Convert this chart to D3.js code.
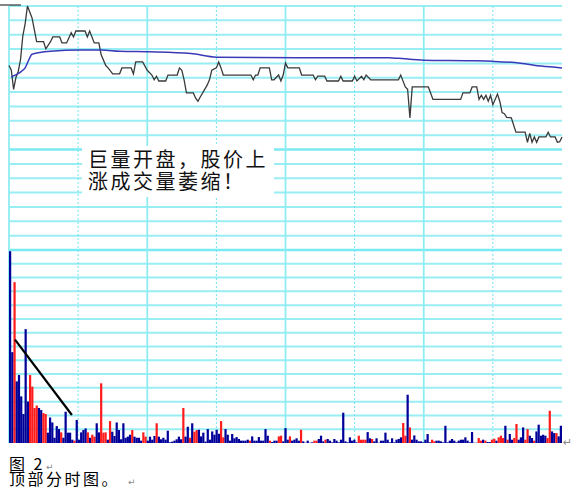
<!DOCTYPE html>
<html>
<head>
<meta charset="utf-8">
<script src="https://cdn.jsdelivr.net/npm/d3@7"></script>
<style>
  body { margin: 0; background: #fff; }
  svg { display: block; }
</style>
</head>
<body>
<svg id="chart"></svg>
<script>
// minute / price readings of the price line
const priceMin = [0, 1, 2, 3, 4, 5, 6, 7, 8, 10, 11, 12, 15, 16, 18, 19, 22, 23, 25, 27, 28, 29, 33, 34, 35, 37, 39, 40, 42, 43, 45, 48, 49, 53, 54, 55, 58, 60, 62, 63, 64, 65, 68, 69, 73, 74, 75, 76, 77, 80, 81,
  82, 83, 86, 87, 88, 90, 91, 92, 93, 105, 106, 107, 108, 109, 113, 114, 115, 117, 118, 119, 120, 121, 126, 127, 132, 133, 134, 137, 138, 143, 144, 145, 149, 150, 151, 153, 154, 155, 157, 169,
  170, 172, 173, 174, 175, 182, 184, 196, 197, 200, 201, 203, 204, 205, 206, 207, 208, 209, 210, 212, 213, 214, 215, 216, 218, 220, 224, 225, 226, 227, 228, 229, 230, 233, 234, 235, 237, 238, 239, 240];
const priceVal = [10.14, 10.132, 10.10, 10.12, 10.13, 10.15, 10.19, 10.21, 10.24, 10.22, 10.20, 10.18, 10.18, 10.168, 10.18, 10.188, 10.188, 10.178, 10.178, 10.195, 10.188, 10.198, 10.198, 10.188, 10.198, 10.178, 10.178, 10.158, 10.14, 10.136, 10.126, 10.126, 10.136, 10.136, 10.126, 10.146, 10.146, 10.132, 10.124, 10.116, 10.122, 10.114, 10.114, 10.124, 10.124, 10.136, 10.132, 10.116, 10.094, 10.094, 10.085,
  10.08, 10.087, 10.107, 10.116, 10.132, 10.136, 10.146, 10.136, 10.124, 10.124, 10.116, 10.124, 10.124, 10.136, 10.136, 10.116, 10.116, 10.124, 10.114, 10.124, 10.144, 10.136, 10.136, 10.124, 10.124, 10.116, 10.122, 10.122, 10.114, 10.114, 10.122, 10.114, 10.114, 10.122, 10.114, 10.122, 10.116, 10.124, 10.116, 10.116,
  10.124, 10.104, 10.10, 10.052, 10.104, 10.104, 10.083, 10.083, 10.094, 10.094, 10.104, 10.104, 10.083, 10.09, 10.083, 10.09, 10.08, 10.09, 10.074, 10.092, 10.08, 10.061, 10.059, 10.053, 10.052, 10.028, 10.028, 10.011, 10.026, 10.011, 10.02, 10.011, 10.02, 10.02, 10.028, 10.02, 10.02, 10.011, 10.012, 10.02];

// minute / price readings of the average line
const avgMin = [1, 5, 7, 9, 10, 18, 31, 40, 48, 61, 79, 90, 126, 165, 169, 180, 200, 210, 222, 231, 240];
const avgVal = [10.121, 10.129, 10.136, 10.153, 10.159, 10.164, 10.166, 10.166, 10.164, 10.163, 10.160, 10.154, 10.153, 10.153, 10.152, 10.149, 10.148, 10.147, 10.144, 10.139, 10.136];

// volume per bar and side (r = up, b = down)
const volume = [
  1391, 659, 1167, 447, 493, 338, 210, 826, 301, 493, 409, 254, 272, 254, 239, 217, 210, 75, 185, 149,
  38, 123, 101, 77, 38, 227, 75, 75, 24, 17, 167, 24, 77, 94, 106, 77, 38, 60, 46, 143,
  77, 433, 75, 77, 24, 159, 82, 51, 149, 94, 27, 143, 38, 46, 60, 94, 46, 38, 38, 17,
  77, 46, 17, 46, 24, 51, 143, 46, 27, 38, 24, 89, 5, 10, 17, 27, 46, 27, 254, 46,
  118, 38, 143, 82, 94,
  96, 48, 75, 10, 101, 24, 84, 60, 96, 67, 159, 41, 101, 60, 17, 65, 34, 43, 29, 17,
  17, 17, 24, 17, 48, 17, 17, 43, 17, 17, 101, 53, 17, 7, 17, 17, 48, 53, 12, 108,
  24, 48, 17, 24, 34, 17, 96, 12, 2, 17, 2, 5, 17, 17, 29, 53, 12, 24, 29, 17,
  5, 29, 17, 5, 24, 220, 12, 5, 41, 17, 24, 5, 53, 24, 24, 24, 79, 34, 29, 12, 34, 2,
  17, 17, 75, 24, 5, 34, 5, 24, 29, 41, 145, 53, 350, 113, 24, 55, 24, 12, 12, 5,
  24, 65, 5, 24, 12, 17, 17, 12, 5, 125, 5, 17, 29, 17, 5, 17, 24, 24, 41, 17,
  5, 80, 2, 2, 36, 17, 24, 17, 7, 7, 24, 31, 17, 41, 53, 36, 125, 24, 65, 24,
  36, 138, 24, 41, 113, 24, 101, 53, 36, 17, 84, 133, 53, 60, 53, 36, 234, 84, 72, 72, 48, 125];
const volSide = (
  "bbrbbbbbbr" + "rrrbbrrbbb" + "bbbrbbbbbr" + "bbbbbrbrrb" + "brrrbrbbbb" + "bbbbbrbbbb" + "rrbbbbrbbb" + "bbbbbbbbrb" + "brbrr" +
  "bbbbbbbbbb" + "rrbbbbbbbb" + "bbbrbbbbbb" + "bbrbbbrrbb" + "brbbbbrbbb" + "bbrrbbbrbb" + "bbbbbbbbbb" + "bbrrrrbbrbbb" +
  "bbbbbbbbbb" + "rrbrbbbbbb" + "bbbrrbbbbb" + "bbbbbbbbbb" + "bbbbrrbrbb" + "rrbrrrbrbb" + "rrbbbrrbbr" + "bbbbbrrbbrbb"
).split("");

// hand-drawn trend stroke over the volume bars (minute, volume)
const trendMin = [2.6, 27.3];
const trendVol = [750, 203];

const noteLines = ["巨量开盘，股价上", "涨成交量萎缩！"];
const captionLines = ["图 2", "顶部分时图。"];
const captionGap = [1, 8];

const W = 580, H = 492;
const plotLeft = 9, plotRight = 562, plotTop = 6, plotSplit = 250, plotBottom = 443;

const x = d3.scaleLinear().domain([0, 240]).range([plotLeft, plotRight]);
const yPrice = d3.scaleLinear().domain([9.83, 10.24]).range([plotSplit, plotTop]);
const yVol = d3.scaleLinear().domain([0, 1400]).range([plotBottom, plotSplit]);
const xBar = d3.scaleBand().domain(d3.range(volume.length)).range([plotLeft, plotRight]);

const svg = d3.select("#chart").attr("width", W).attr("height", H);
svg.append("rect").attr("width", W).attr("height", H).attr("fill", "#fff");

// grid
const grid = svg.append("g");
const priceRows = d3.range(18).map(i => plotTop + i * (plotSplit - plotTop) / 17);
grid.selectAll(".hp")
    .data(priceRows)
    .enter()
    .append("line")
    .attr("x1", plotLeft).attr("x2", plotRight)
    .attr("y1", d => d).attr("y2", d => d)
    .attr("stroke", (d, i) => (i === 10 || i === 17) ? "#7aeaf2" : "#98eef3")
    .attr("stroke-width", (d, i) => (i === 10 || i === 17) ? 2.6 : 2);

grid.selectAll(".hv")
    .data(d3.range(100, 1400, 100))
    .enter()
    .append("line")
    .attr("x1", plotLeft).attr("x2", plotRight)
    .attr("y1", d => yVol(d)).attr("y2", d => yVol(d))
    .attr("stroke", "#98eef3")
    .attr("stroke-width", 2);

grid.selectAll(".vl")
    .data(d3.range(0, 240, 30))
    .enter()
    .append("line")
    .attr("x1", d => x(d)).attr("x2", d => x(d))
    .attr("y1", plotTop).attr("y2", plotBottom)
    .attr("stroke", (d, i) => i % 2 === 0 ? "#8eedf3" : "#6fe3ee")
    .attr("stroke-width", (d, i) => i % 2 === 0 ? 1.8 : 1)
    .attr("stroke-dasharray", (d, i) => i % 2 === 0 ? null : "2,2");

// note box
svg.append("rect")
    .attr("x", 82).attr("y", 146)
    .attr("width", 192).attr("height", 51)
    .attr("fill", "#fff");

svg.selectAll(".note")
    .data(noteLines)
    .enter()
    .append("text")
    .attr("x", 88)
    .attr("y", (d, i) => 166.5 + i * 22)
    .attr("font-family", "'Noto Sans CJK SC', sans-serif")
    .attr("font-size", 20)
    .attr("letter-spacing", 2.5)
    .attr("fill", "#111")
    .text(d => d);

// volume bars
svg.append("g")
    .selectAll("rect")
    .data(volume)
    .enter()
    .append("rect")
    .attr("x", (d, i) => xBar(i))
    .attr("y", d => yVol(d))
    .attr("width", xBar.bandwidth())
    .attr("height", d => plotBottom - yVol(d))
    .attr("fill", (d, i) => volSide[i] === "r" ? "#ff1c1c" : "#000099");

// price & average lines
const priceLine = d3.line()
    .x(i => x(priceMin[i]))
    .y(i => yPrice(priceVal[i]));
svg.append("path")
    .attr("d", priceLine(d3.range(priceMin.length)))
    .attr("fill", "none")
    .attr("stroke", "#3a3a3a")
    .attr("stroke-width", 1.3);

const avgLine = d3.line()
    .x(i => x(avgMin[i]))
    .y(i => yPrice(avgVal[i]))
    .curve(d3.curveMonotoneX);
svg.append("path")
    .attr("d", avgLine(d3.range(avgMin.length)))
    .attr("fill", "none")
    .attr("stroke", "#3a3ab8")
    .attr("stroke-width", 1.5);

// small mark at top left
svg.append("line")
    .attr("x1", 0).attr("x2", 21)
    .attr("y1", 5).attr("y2", 5)
    .attr("stroke", "#333")
    .attr("stroke-width", 1.2);

// trend stroke
svg.append("line")
    .attr("x1", x(trendMin[0])).attr("y1", yVol(trendVol[0]))
    .attr("x2", x(trendMin[1])).attr("y2", yVol(trendVol[1]))
    .attr("stroke", "#000")
    .attr("stroke-width", 2.2);

// return mark at plot corner
svg.append("text")
    .attr("x", 563).attr("y", 446)
    .attr("font-family", "'DejaVu Sans', sans-serif")
    .attr("font-size", 11)
    .attr("fill", "#888")
    .text("↵");

// caption
const capText = svg.selectAll(".cap")
    .data(captionLines)
    .enter()
    .append("text")
    .attr("x", 9)
    .attr("y", (d, i) => 470 + i * 15)
    .attr("font-family", "'Noto Sans CJK SC', sans-serif")
    .attr("font-size", 16)
    .attr("letter-spacing", 2.5)
    .attr("fill", "#000")
    .text(d => d);

capText.each(function(d, i) {
    const w = this.getComputedTextLength();
    svg.append("text")
        .attr("x", 9 + w + captionGap[i])
        .attr("y", 470 + i * 15)
        .attr("font-family", "'DejaVu Sans', sans-serif")
        .attr("font-size", 9)
        .attr("fill", "#888")
        .text("↵");
});
</script>
</body>
</html>
